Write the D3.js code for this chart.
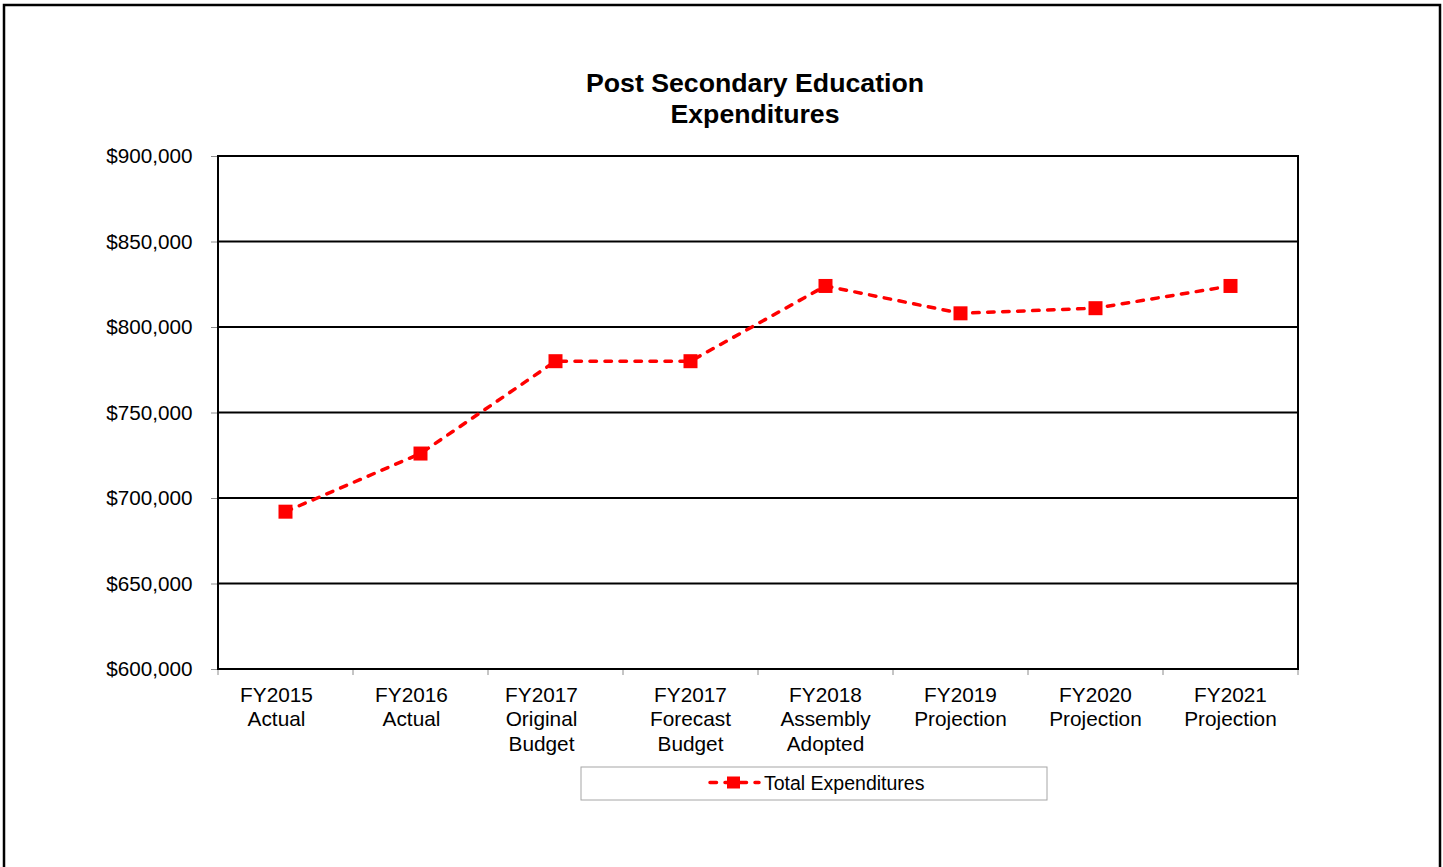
<!DOCTYPE html>
<html>
<head>
<meta charset="utf-8">
<script src="https://cdn.jsdelivr.net/npm/d3@7"></script>
<style>
  html, body { margin: 0; padding: 0; background: #fff; }
  svg { display: block; font-family: "Liberation Sans", Arial, sans-serif; }
</style>
</head>
<body>
<svg id="chart" width="1443" height="867"></svg>
<script>
const titleLines = ["Post Secondary Education", "Expenditures"];
const categories = [
  ["FY2015", "Actual"],
  ["FY2016", "Actual"],
  ["FY2017", "Original", "Budget"],
  ["FY2017", "Forecast", "Budget"],
  ["FY2018", "Assembly", "Adopted"],
  ["FY2019", "Projection"],
  ["FY2020", "Projection"],
  ["FY2021", "Projection"]
];
const seriesName = "Total Expenditures";
const values = [692000, 726000, 780000, 780000, 824000, 808000, 811000, 824000];
const yTicks = [600000, 650000, 700000, 750000, 800000, 850000, 900000];

// layout: the original's first labels sit slightly left of their category centre
const labelShift = [-9, -9, -14, 0, 0, 0, 0, 0];

const svg = d3.select("#chart");
const plot = { left: 218, right: 1298, top: 156, bottom: 669 };
const red = "#ff0000";

// outer border
svg.append("rect")
  .attr("x", 4).attr("y", 5).attr("width", 1436).attr("height", 900)
  .attr("fill", "#fff").attr("stroke", "#000").attr("stroke-width", 2.5);

const keys = categories.map(c => c.join(" "));
const x = d3.scaleBand().domain(keys).range([plot.left, plot.right]).padding(0);
const y = d3.scaleLinear().domain([600000, 900000]).range([plot.bottom, plot.top]);

// title
const title = svg.append("text")
  .attr("text-anchor", "middle")
  .attr("font-weight", "bold")
  .attr("font-size", 26.7)
  .attr("fill", "#000");
titleLines.forEach((t, i) => {
  title.append("tspan").attr("x", 755).attr("y", 92 + i * 31).text(t);
});

// gridlines
svg.append("g").selectAll("line")
  .data(yTicks)
  .join("line")
  .attr("x1", plot.left).attr("x2", plot.right)
  .attr("y1", d => y(d)).attr("y2", d => y(d))
  .attr("stroke", "#000").attr("stroke-width", 2);

// y axis
const yAxis = svg.append("g")
  .attr("transform", `translate(${plot.left},0)`)
  .call(d3.axisLeft(y).tickValues(yTicks).tickSize(7).tickPadding(18.5)
    .tickFormat(d => "$" + d3.format(",")(d)));
yAxis.select(".domain").remove();
yAxis.selectAll(".tick line").attr("stroke", "#8c8c8c").attr("stroke-width", 1);
yAxis.selectAll(".tick text")
  .attr("font-size", 20.7).attr("fill", "#000")
  .attr("font-family", "'Liberation Sans', Arial, sans-serif");

// x axis boundary ticks
const bounds = keys.map(k => x(k)).concat([x.range()[1]]);
svg.append("g").selectAll("line")
  .data(bounds)
  .join("line")
  .attr("x1", d => d).attr("x2", d => d)
  .attr("y1", plot.bottom).attr("y2", plot.bottom + 6)
  .attr("stroke", "#8c8c8c").attr("stroke-width", 1);

// x labels
const xl = svg.append("g").selectAll("text")
  .data(categories)
  .join("text")
  .attr("text-anchor", "middle")
  .attr("font-size", 20.8)
  .attr("fill", "#000");
xl.each(function(c, i) {
  const cx = x(keys[i]) + x.bandwidth() / 2 + labelShift[i];
  d3.select(this).selectAll("tspan")
    .data(c)
    .join("tspan")
    .attr("x", cx)
    .attr("y", (d, j) => 701.5 + j * 24.5)
    .text(d => d);
});

// plot border
svg.append("rect")
  .attr("x", plot.left).attr("y", plot.top)
  .attr("width", plot.right - plot.left).attr("height", plot.bottom - plot.top)
  .attr("fill", "none").attr("stroke", "#000").attr("stroke-width", 2);

// line
const line = d3.line()
  .x((d, i) => x(keys[i]) + x.bandwidth() / 2)
  .y(d => y(d));
svg.append("path")
  .datum(values)
  .attr("d", line)
  .attr("fill", "none")
  .attr("stroke", red)
  .attr("stroke-width", 3.5)
  .attr("stroke-linecap", "round")
  .attr("stroke-dasharray", "6.5,8.5");

// markers
const ms = 14;
svg.append("g").selectAll("rect")
  .data(values)
  .join("rect")
  .attr("x", (d, i) => x(keys[i]) + x.bandwidth() / 2 - ms / 2)
  .attr("y", d => y(d) - ms / 2)
  .attr("width", ms).attr("height", ms)
  .attr("fill", red);

// legend
const lg = svg.append("g");
lg.append("rect")
  .attr("x", 581).attr("y", 767).attr("width", 466).attr("height", 33)
  .attr("fill", "#fff").attr("stroke", "#a6a6a6").attr("stroke-width", 1);
lg.append("line")
  .attr("x1", 710).attr("x2", 759).attr("y1", 782.5).attr("y2", 782.5)
  .attr("stroke", red).attr("stroke-width", 3.5)
  .attr("stroke-linecap", "round").attr("stroke-dasharray", "6.5,8.5");
lg.append("rect")
  .attr("x", 727).attr("y", 776.5).attr("width", 13).attr("height", 12)
  .attr("fill", red);
lg.append("text")
  .attr("x", 764).attr("y", 789.5)
  .attr("font-size", 19.5).attr("fill", "#000")
  .text(seriesName);
</script>
</body>
</html>
